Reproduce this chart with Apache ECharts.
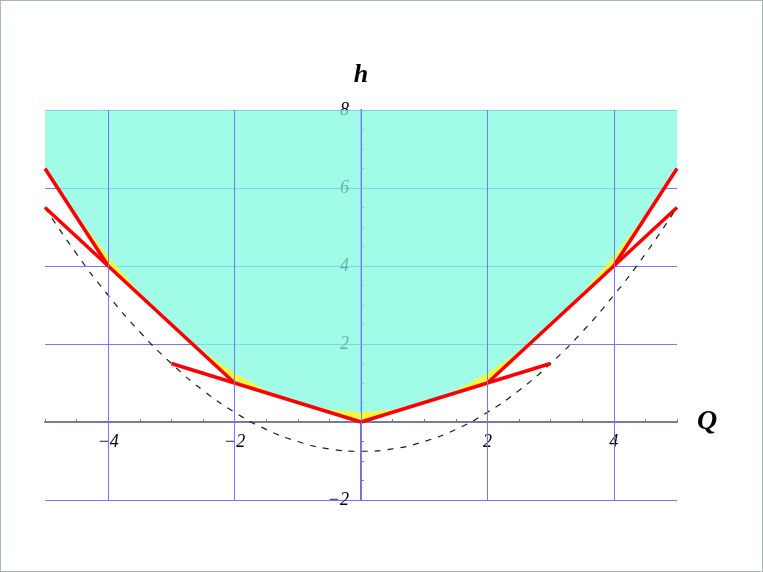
<!DOCTYPE html>
<html>
<head>
    <meta charset="utf-8">
    <title>h(Q)</title>
    <script src="https://cdn.jsdelivr.net/npm/echarts@6/dist/echarts.min.js"></script>
    <style>
        body { margin: 0; background: #fff; }
        #container { width: 763px; height: 572px; position: relative; }
        #frame { position: absolute; left: 0; top: 0; width: 763px; height: 572px;
                 box-sizing: border-box; border: 1px solid #a6b8b1; pointer-events: none; }
    </style>
</head>
<body>
    <div id="container"></div>
    <div id="frame"></div>
    <script type="text/javascript">
        // sample points along Q
        var qVals = [-5, -4.5, -4, -3.5, -3, -2.5, -2, -1.5, -1, -0.5, 0,
                     0.5, 1, 1.5, 2, 2.5, 3, 3.5, 4, 4.5, 5];
        // lower edge of the cyan region
        var cyanH = [6.5, 5.31, 4.25, 3.31, 2.5, 1.81, 1.25, 0.81, 0.5, 0.31, 0.25,
                     0.31, 0.5, 0.81, 1.25, 1.81, 2.5, 3.31, 4.25, 5.31, 6.5];
        // red polygonal envelope (lower edge of the yellow band)
        var envH = [6.5, 5.25, 4, 3.25, 2.5, 1.75, 1, 0.75, 0.5, 0.25, 0,
                    0.25, 0.5, 0.75, 1, 1.75, 2.5, 3.25, 4, 5.25, 6.5];
        // dashed parabola
        var dashH = [5.5, 4.31, 3.25, 2.31, 1.5, 0.81, 0.25, -0.19, -0.5, -0.69, -0.75,
                     -0.69, -0.5, -0.19, 0.25, 0.81, 1.5, 2.31, 3.25, 4.31, 5.5];
        // red straight segments [Q, h]
        var redLines = [
            [[-5, 6.5], [-4, 4]],
            [[-5, 5.5], [-2, 1]],
            [[-3, 1.5], [0, 0]],
            [[0, 0], [3, 1.5]],
            [[2, 1], [5, 5.5]],
            [[4, 4], [5, 6.5]]
        ];
        var hTop = 8;
        var xGrid = [-4, -2, 0, 2, 4];
        var xLabels = [-4, -2, 2, 4];
        var yLabels = [-2, 2, 4, 6, 8];

        var serif = 'Liberation Serif';
        function pair(ys) { return qVals.map(function (q, i) { return [q, ys[i]]; }); }
        function minus(v) { return String(v).replace('-', '\u2212'); }

        var myContainer = echarts.init(document.getElementById('container'));

        // one custom item draws the yellow band and the cyan region above it
        function renderFill(params, api) {
            var curve = qVals.map(function (q, i) { return api.coord([q, cyanH[i]]); });
            var env = qVals.map(function (q, i) { return api.coord([q, envH[i]]); }).reverse();
            var top = [api.coord([qVals[qVals.length - 1], hTop]), api.coord([qVals[0], hTop])];
            return {
                type: 'group',
                children: [
                    { type: 'polygon', shape: { points: curve.concat(env) },
                      style: { fill: '#f3f83a' } },
                    { type: 'polygon', shape: { points: curve.concat(top) },
                      style: { fill: 'rgba(123,251,222,0.72)' } }
                ]
            };
        }

        var series = [
            {
                name: 'dash', type: 'line', z: 1, smooth: true,
                data: pair(dashH), showSymbol: false, silent: true,
                lineStyle: { color: '#1a1a1a', width: 1.2, type: [6, 7] },
                markLine: {
                    silent: true, symbol: 'none', label: { show: false },
                    lineStyle: { color: '#7474ff', type: 'solid', width: 1 },
                    data: xGrid.map(function (v) { return { xAxis: v }; })
                }
            },
            {
                name: 'fill', type: 'custom', z: 2, silent: true,
                renderItem: renderFill, data: [[0, 0]]
            }
        ];
        redLines.forEach(function (seg) {
            series.push({
                type: 'line', z: 4, data: seg, showSymbol: false, silent: true,
                lineStyle: { color: '#ff0000', width: 3.5 }
            });
        });

        myContainer.setOption({
            animation: false,
            grid: { left: 45, right: 86, top: 110, bottom: 72 },
            xAxis: {
                type: 'value', min: -5, max: 5, interval: 1, offset: -78,
                name: 'Q', nameLocation: 'end', nameGap: 20,
                nameTextStyle: { fontFamily: serif, fontStyle: 'italic', fontWeight: 'bold',
                                 fontSize: 28, color: '#000', verticalAlign: 'middle' },
                axisLine: { onZero: false, lineStyle: { color: '#7878a4', width: 2 } },
                axisTick: { inside: true, length: 3, lineStyle: { color: '#7878a4' } },
                minorTick: { show: true, splitNumber: 2, length: 3, lineStyle: { color: '#7878a4' } },
                splitLine: { show: false },
                axisLabel: {
                    margin: 11, fontFamily: serif, fontStyle: 'italic', fontSize: 18, color: '#000',
                    formatter: function (v) { return xLabels.indexOf(v) >= 0 ? minus(v) : ''; }
                }
            },
            yAxis: {
                type: 'value', min: -2, max: 8, interval: 2, offset: -316,
                name: 'h', nameLocation: 'end', nameGap: 22,
                nameTextStyle: { fontFamily: serif, fontStyle: 'italic', fontWeight: 'bold',
                                 fontSize: 26, color: '#000' },
                axisLine: { onZero: false, lineStyle: { color: '#7878a4', width: 2 } },
                axisTick: { inside: true, length: 3, lineStyle: { color: '#7878a4' } },
                minorTick: { show: true, splitNumber: 4, length: 3, lineStyle: { color: '#7878a4' } },
                splitLine: { show: true, lineStyle: { color: '#7474ff', width: 1 } },
                axisLabel: {
                    margin: 12, fontFamily: serif, fontStyle: 'italic', fontSize: 18, color: '#000',
                    formatter: function (v) { return yLabels.indexOf(v) >= 0 ? minus(v) : ''; }
                }
            },
            series: series
        });
    </script>
</body>
</html>
